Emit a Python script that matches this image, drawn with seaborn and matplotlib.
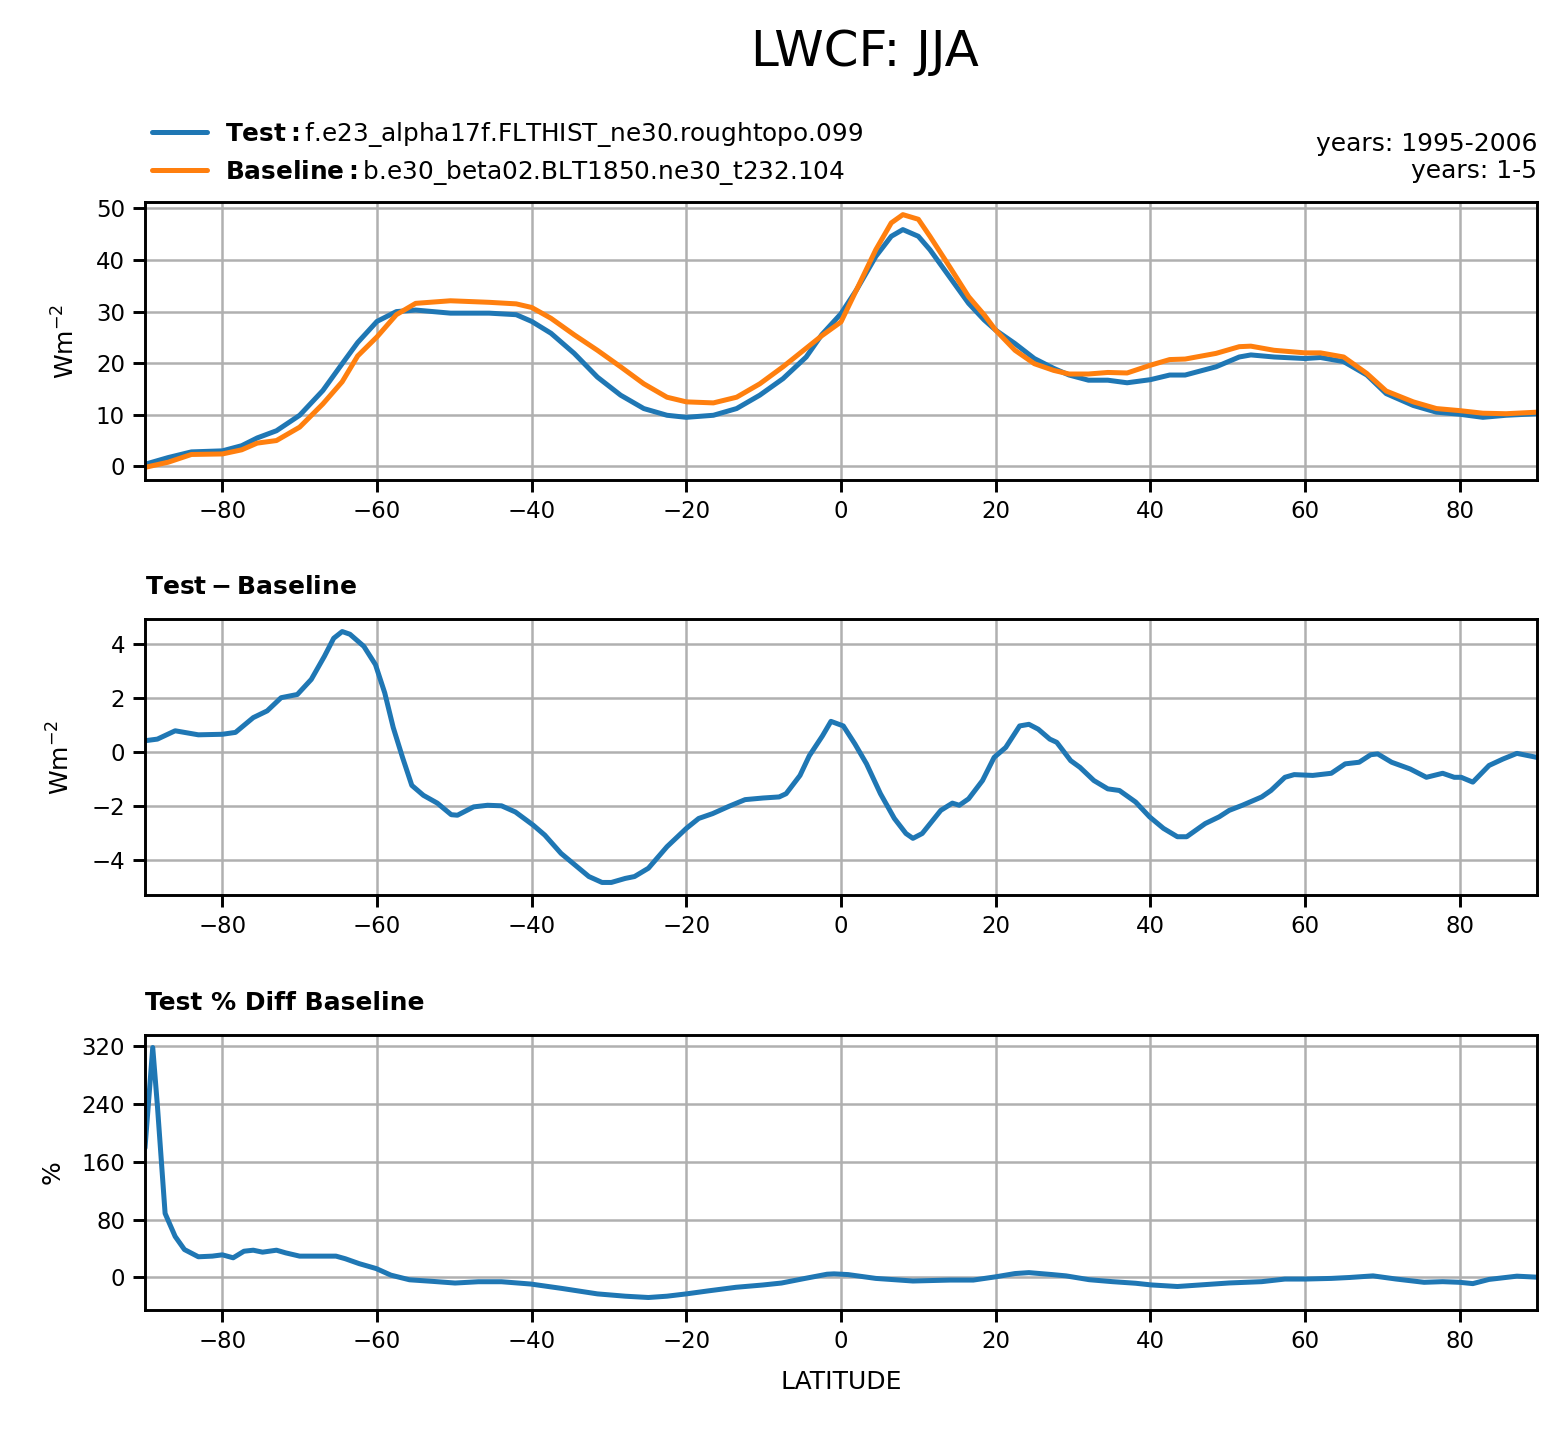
import matplotlib
matplotlib.use("Agg")
import matplotlib.pyplot as plt
import seaborn as sns
import pandas as pd
import numpy as np

# zonal mean LWCF, JJA
test_lat = [-90, -87, -84, -80, -77.5, -75.5, -73, -70, -67, -64.5, -62.5, -60, -57.5, -55,
            -50.5, -45.5, -42, -40, -37.5, -34.5, -31.5, -28.5, -25.5, -22.5, -20, -16.5,
            -13.5, -10.5, -7.5, -4.5, -2.5, 0, 2, 4.5, 6.5, 8, 10, 11.5, 14, 16.5, 18.5, 20,
            22.5, 25, 27.5, 29.5, 32, 34.5, 37, 40, 42.5, 44.5, 48.5, 51.5, 53, 56, 60, 62,
            65, 68, 70.5, 74, 77, 80, 83, 86, 90]
test_val = [0.4, 1.7, 2.8, 3.0, 4.0, 5.5, 6.9, 9.9, 14.7, 19.9, 24.0, 28.1, 30.0, 30.3,
            29.7, 29.7, 29.4, 28.1, 25.8, 21.9, 17.3, 13.8, 11.2, 9.9, 9.5, 9.9,
            11.2, 13.8, 17.0, 21.2, 25.5, 29.6, 34.2, 40.7, 44.6, 45.9, 44.6, 42.0, 36.8, 31.6, 28.4, 26.4,
            23.8, 20.9, 19.0, 17.7, 16.7, 16.7, 16.2, 16.8, 17.7, 17.7, 19.3, 21.2, 21.6, 21.2, 20.9, 21.1,
            20.3, 17.7, 14.1, 11.8, 10.5, 10.1, 9.5, 9.9, 10.2]

base_lat = test_lat
base_val = [-0.2, 0.8, 2.3, 2.4, 3.2, 4.5, 5.0, 7.6, 12.1, 16.4, 21.4, 25.1, 29.4, 31.6,
            32.1, 31.8, 31.5, 30.8, 28.7, 25.5, 22.5, 19.3, 16.0, 13.4, 12.5, 12.3,
            13.4, 16.0, 19.3, 22.9, 25.3, 28.0, 34.2, 42.0, 47.2, 48.8, 47.9, 44.6, 38.8, 32.9, 29.4, 26.4,
            22.5, 19.9, 18.6, 17.9, 17.9, 18.2, 18.1, 19.6, 20.7, 20.8, 21.9, 23.2, 23.3, 22.5, 22.0, 22.0,
            21.2, 18.0, 14.6, 12.5, 11.2, 10.8, 10.3, 10.2, 10.5]

diff_lat = [-90, -88.4, -86.1, -83.1, -80, -78.3, -76, -74.2, -72.4, -70.3, -68.5, -66.8, -65.6,
            -64.5, -63.5, -61.7, -60.2, -59, -57.9, -56.7, -55.5, -54, -52.2, -50.4, -49.6, -47.5,
            -45.7, -43.9, -42.1, -39.8, -38.3, -36.2, -34.4, -32.6, -30.9, -29.7, -27.9, -26.7,
            -24.9, -22.5, -20, -18.4, -16.6, -14.5, -12.4, -10.1, -8, -7.1, -5.3, -4.1, -2.4, -1.3,
            0.3, 1.8, 3.3, 5.1, 6.9, 8.4, 9.3, 10.5, 12.9, 14.4, 15.3, 16.5, 18.3, 19.8, 21.3, 23.1,
            24.3, 25.5, 27, 27.9, 29.7, 30.9, 32.7, 34.5, 36, 38.1, 39.9, 41.7, 43.5, 44.7, 47.1,
            48.9, 50.2, 51.9, 54.4, 55.6, 57.4, 58.6, 61, 63.4, 65.2, 67, 68.5, 69.4, 71.2, 73.6,
            75.7, 77.8, 79.3, 80.2, 81.7, 83.8, 85.6, 87.4, 90]
diff_val = [0.42, 0.48, 0.79, 0.64, 0.66, 0.73, 1.28, 1.53, 2.02, 2.14, 2.70, 3.56, 4.23,
            4.48, 4.38, 3.93, 3.25, 2.20, 0.91, -0.20, -1.24, -1.61, -1.90, -2.33, -2.35, -2.04,
            -1.98, -2.00, -2.23, -2.72, -3.09, -3.77, -4.20, -4.63, -4.85, -4.85, -4.70, -4.63,
            -4.32, -3.52, -2.84, -2.47, -2.29, -2.02, -1.77, -1.71, -1.67, -1.55, -0.87, -0.14, 0.60, 1.14,
            0.97, 0.30, -0.44, -1.55, -2.47, -3.03, -3.21, -3.03, -2.17, -1.90, -1.98, -1.74, -1.06, -0.20, 0.17, 0.97,
            1.03, 0.85, 0.48, 0.36, -0.32, -0.57, -1.06, -1.37, -1.43, -1.86, -2.41, -2.84, -3.15, -3.15, -2.66,
            -2.41, -2.17, -1.98, -1.67, -1.43, -0.94, -0.84, -0.87, -0.79, -0.44, -0.38, -0.10, -0.07, -0.38, -0.63,
            -0.94, -0.79, -0.94, -0.94, -1.12, -0.50, -0.26, -0.05, -0.20]

pct_lat = [-90, -89, -88.4, -87.4, -86.1, -84.9, -83.1, -81.3, -80, -78.6, -77.2, -76, -74.8, -73,
           -71.8, -70, -67.1, -65.3, -64.1, -62.3, -60.1, -58.2, -55.8, -52.8, -49.9, -46.9, -43.9,
           -40.1, -36.2, -31.5, -27.9, -24.9, -22.5, -20, -17.2, -13.6, -10.1, -7.7, -4.7, -1.8, -0.9,
           0.9, 4.5, 9.3, 14.1, 17.1, 20, 22.5, 24.3, 27.3, 29.1, 32.1, 35.1, 38.1, 40.1, 43.5, 46.5,
           50.2, 54.4, 57.4, 60, 63.4, 65.8, 68.8, 71.8, 75.4, 77.8, 80, 81.7, 83.8, 87.4, 90]
pct_val = [179, 318, 238, 88.5, 56.7, 38.6, 28.6, 29.5, 31.3, 27.2, 36.3, 37.7, 35, 37.7,
           34, 29.5, 29.5, 29.5, 25.9, 19.1, 12.3, 3.2, -3.2, -5.4, -7.7, -5.9, -5.9,
           -9.1, -15, -22.7, -25.9, -27.7, -25.9, -22.7, -18.6, -13.6, -10.4, -7.7, -1.4, 4.5, 5.0,
           4.0, -1.3, -4.9, -3.6, -3.6, 0.9, 5.4, 6.7, 4.0, 2.2, -3.1, -5.8, -8.0, -10.3, -12.5, -10.3,
           -7.6, -5.8, -2.2, -2.2, -1.3, 0, 2.2, -2.2, -6.7, -5.8, -6.7, -8.5, -2.7, 1.8, 0.4]

test_name = "f.e23_alpha17f.FLTHIST_ne30.roughtopo.099"
base_name = "b.e30_beta02.BLT1850.ne30_t232.104"
test_years = "years: 1995-2006"
base_years = "years: 1-5"

sns.set_style("white")
plt.rcParams["font.family"] = ["DejaVu Sans"]
for k in ("text.color", "axes.labelcolor", "xtick.color", "ytick.color", "axes.edgecolor"):
    plt.rcParams[k] = "black"

W, H = 1567, 1433
fig = plt.figure(figsize=(W / 300, H / 300), dpi=300)

left = 145 / W
width = (1537 - 145) / W
def make_ax(top_px, bot_px):
    return fig.add_axes([left, 1 - bot_px / H, width, (bot_px - top_px) / H])

ax1 = make_ax(202, 480)
ax2 = make_ax(619, 895)
ax3 = make_ax(1035, 1310)

blue, orange = "#1f77b4", "#ff7f0e"
lw = 1.2

df_test = pd.DataFrame({"lat": test_lat, "val": test_val})
df_base = pd.DataFrame({"lat": base_lat, "val": base_val})
df_diff = pd.DataFrame({"lat": diff_lat, "val": diff_val})
df_pct = pd.DataFrame({"lat": pct_lat, "val": pct_val})

sns.lineplot(data=df_test, x="lat", y="val", ax=ax1, color=blue, lw=lw)
sns.lineplot(data=df_base, x="lat", y="val", ax=ax1, color=orange, lw=lw)
sns.lineplot(data=df_diff, x="lat", y="val", ax=ax2, color=blue, lw=lw)
sns.lineplot(data=df_pct, x="lat", y="val", ax=ax3, color=blue, lw=lw)

ax1.set_yticks([0, 10, 20, 30, 40, 50])
ax2.set_yticks([-4, -2, 0, 2, 4])
ax3.set_yticks([0, 80, 160, 240, 320])

for ax in (ax1, ax2, ax3):
    ax.set_xlim(-90, 90)
    ax.set_xticks(np.arange(-80, 81, 20))
    ax.grid(True, color="#b0b0b0", lw=0.6)
    ax.set_axisbelow(True)
    ax.tick_params(labelsize=5.5, length=2.8, width=0.7, direction="out",
                   bottom=True, left=True, pad=2, colors="black")
    for s in ax.spines.values():
        s.set_linewidth(0.7)
        s.set_color("black")
    ax.set_xlabel("")

ax1.set_ylabel("Wm$^{-2}$", fontsize=6)
ax2.set_ylabel("Wm$^{-2}$", fontsize=6)
ax3.set_ylabel("%", fontsize=6)
ax3.set_xlabel("LATITUDE", fontsize=6)

ax2.set_title("$\\bf{Test} - \\bf{Baseline}$", loc="left", fontsize=6, pad=6)
ax3.set_title("Test % Diff Baseline", loc="left", fontsize=6, fontweight="bold", pad=6)

handles = ax1.get_lines()[:2]
fig.legend(handles, ["$\\bf{Test}:$" + test_name, "$\\bf{Baseline}:$" + base_name],
           loc="upper left", bbox_to_anchor=(152 / W, 1 - 120 / H), frameon=False,
           fontsize=5.95, borderpad=0, borderaxespad=0, handlelength=2.2,
           handletextpad=0.75, labelspacing=0.35)

ax1.text(1.0, 1.07, test_years + "\n" + base_years, transform=ax1.transAxes,
         ha="right", va="bottom", fontsize=6, linespacing=1.15)

fig.text(865 / W, 1 - 52 / H, "LWCF: JJA", ha="center", va="center", fontsize=12)

fig.savefig("out.png", dpi=300)
